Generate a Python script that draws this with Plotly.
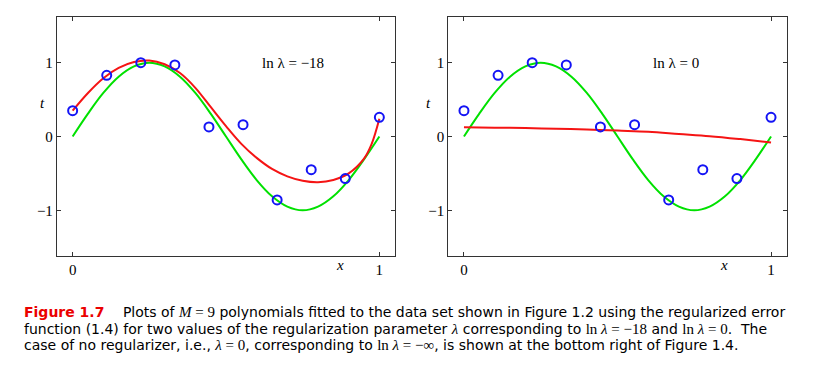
import plotly.graph_objects as go

W, H = 813, 368

# observed data points
x_data = [0.0, 0.1111, 0.2222, 0.3333, 0.4444, 0.5556, 0.6667, 0.7778, 0.8889, 1.0]
t_data = [0.35, 0.83, 1.00, 0.97, 0.13, 0.16, -0.86, -0.45, -0.57, 0.26]

# green curve
x_curve = [0.0, 0.05, 0.10, 0.15, 0.20, 0.25, 0.30, 0.35, 0.40, 0.45, 0.50,
           0.55, 0.60, 0.65, 0.70, 0.75, 0.80, 0.85, 0.90, 0.95, 1.0]
t_green = [0.0, 0.31, 0.59, 0.81, 0.95, 1.0, 0.95, 0.81, 0.59, 0.31, 0.0,
           -0.31, -0.59, -0.81, -0.95, -1.0, -0.95, -0.81, -0.59, -0.31, 0.0]

# red fit, ln lambda = -18
x_red_a = [0.0, 0.05, 0.10, 0.15, 0.20, 0.25, 0.30, 0.35, 0.40, 0.45, 0.50,
           0.55, 0.60, 0.65, 0.70, 0.75, 0.80, 0.85, 0.90, 0.95, 0.975, 1.0]
t_red_a = [0.35, 0.59, 0.79, 0.93, 1.01, 1.03, 0.98, 0.86, 0.66, 0.40, 0.14,
           -0.10, -0.29, -0.44, -0.54, -0.60, -0.62, -0.59, -0.50, -0.30, -0.10, 0.24]

# red fit, ln lambda = 0
x_red_b = [0.0, 0.1, 0.2, 0.3, 0.4, 0.5, 0.6, 0.7, 0.8, 0.9, 1.0]
t_red_b = [0.125, 0.12, 0.115, 0.105, 0.095, 0.08, 0.065, 0.035, 0.005, -0.035, -0.08]

x_ticks = [0, 1]
x_ticklabels = ["0", "1"]
y_ticks = [-1, 0, 1]
y_ticklabels = ["\u22121", "0", "1"]

panel_labels = ["ln \u03bb = \u221218", "ln \u03bb = 0"]

GREEN = "rgb(0,225,0)"
RED = "rgb(245,20,20)"
BLUE = "rgb(20,20,245)"
FRAME = "#333333"
SERIF = "Liberation Serif"
SANS = "DejaVu Sans"

fig = go.Figure()

doms = [[57 / W, 395 / W], [448.3 / W, 786.7 / W]]
ydom = [1 - 256 / H, 1 - 17 / H]
reds = [(x_red_a, t_red_a), (x_red_b, t_red_b)]

for i in range(2):
    xa = "x" if i == 0 else "x2"
    ya = "y" if i == 0 else "y2"
    fig.add_trace(go.Scatter(x=x_curve, y=t_green, mode="lines", line=dict(color=GREEN, width=2, shape="spline"),
                             xaxis=xa, yaxis=ya, showlegend=False))
    fig.add_trace(go.Scatter(x=reds[i][0], y=reds[i][1], mode="lines", line=dict(color=RED, width=2, shape="spline"),
                             xaxis=xa, yaxis=ya, showlegend=False))
    fig.add_trace(go.Scatter(x=x_data, y=t_data, mode="markers",
                             marker=dict(symbol="circle-open", size=9, color=BLUE, line=dict(width=2, color=BLUE)),
                             xaxis=xa, yaxis=ya, showlegend=False))

axis_common = dict(showgrid=False, zeroline=False, showline=True, linecolor=FRAME, linewidth=1.3,
                   mirror="ticks", ticks="inside", ticklen=4, tickcolor=FRAME, tickwidth=1,
                   tickfont=dict(family=SERIF, size=15, color="black"))

fig.update_layout(
    width=W, height=H, margin=dict(l=0, r=0, t=0, b=0),
    paper_bgcolor="white", plot_bgcolor="white",
    xaxis=dict(domain=doms[0], range=[-0.051, 1.051], tickvals=x_ticks, ticktext=x_ticklabels, anchor="y", **axis_common),
    yaxis=dict(domain=ydom, range=[-1.62, 1.62], tickvals=y_ticks, ticktext=y_ticklabels, anchor="x", **axis_common),
    xaxis2=dict(domain=doms[1], range=[-0.051, 1.051], tickvals=x_ticks, ticktext=x_ticklabels, anchor="y2", **axis_common),
    yaxis2=dict(domain=ydom, range=[-1.62, 1.62], tickvals=y_ticks, ticktext=y_ticklabels, anchor="x2", **axis_common),
)

ann = []
# panel labels
ann.append(dict(x=0.72, y=1.0, xref="x", yref="y", text=panel_labels[0], showarrow=False,
                font=dict(family=SERIF, size=15, color="black")))
ann.append(dict(x=0.69, y=1.0, xref="x2", yref="y2", text=panel_labels[1], showarrow=False,
                font=dict(family=SERIF, size=15, color="black")))
# axis titles
for cx, tx in [(340, 38), (730, 429)]:
    ann.append(dict(x=cx / W, y=1 - 275 / H, xref="paper", yref="paper", text="<i>x</i>", showarrow=False,
                    font=dict(family=SERIF, size=15, color="black")))
    ann.append(dict(x=tx / W, y=1 - 93 / H, xref="paper", yref="paper", text="<i>t</i>", showarrow=False,
                    font=dict(family=SERIF, size=15, color="black")))

def m(s):
    return '<span style="font-family:Liberation Serif;font-size:15px">' + s + '</span>'

def big(s):
    return '<span style="font-size:14px">' + s + '</span>'

cap_lines = [
    '<b><span style="color:rgb(235,0,0)">Figure 1.7</span></b>\u2003 Plots of ' + m('<i>M</i> = 9') +
    ' polynomials fitted to the data set shown in Figure 1.2 using the regularized error',
    'function (1.4) for two values of the regularization parameter ' + m('<i>\u03bb</i>') +
    ' corresponding to ' + m('ln <i>\u03bb</i> = \u221218') + ' and ' + m('ln <i>\u03bb</i> = 0') + '.  The',
    'case of no regularizer, i.e., ' + m('<i>\u03bb</i> = 0') + ', corresponding to ' +
    m('ln <i>\u03bb</i> = \u2212\u221e') + ', is shown at the bottom right of Figure 1.4.',
]
caption = "<br>".join(big(s) for s in cap_lines)
ann.append(dict(x=22 / W, y=1 - 328 / H, xref="paper", yref="paper", xanchor="left",
                yanchor="middle", text=caption, showarrow=False, align="left",
                font=dict(family=SANS, size=12.7, color="black")))

fig.update_layout(annotations=ann)
fig.write_html("out.html", config={"displayModeBar": False},
               post_script="document.body.style.margin='0';")
